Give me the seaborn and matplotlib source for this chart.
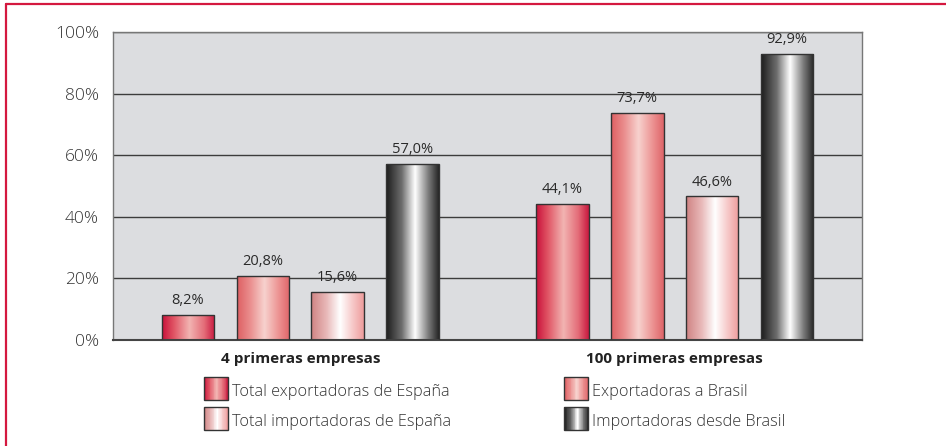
import numpy as np
import pandas as pd
import seaborn as sns
import matplotlib
matplotlib.use("Agg")
import matplotlib.pyplot as plt
from matplotlib.colors import LinearSegmentedColormap
from matplotlib.patches import Rectangle
from matplotlib.lines import Line2D
from matplotlib.legend_handler import HandlerBase

# ---------------- data ----------------
categories = ["4 primeras empresas", "100 primeras empresas"]
series = ["Total exportadoras de España", "Exportadoras a Brasil",
          "Total importadoras de España", "Importadoras desde Brasil"]
total_exportadoras = [8.2, 44.1]
exportadoras_brasil = [20.8, 73.7]
total_importadoras = [15.6, 46.6]
importadoras_brasil = [57.0, 92.9]
yticks = [0, 20, 40, 60, 80, 100]
ytick_labels = ["0%", "20%", "40%", "60%", "80%", "100%"]

values = [total_exportadoras, exportadoras_brasil, total_importadoras, importadoras_brasil]
rows = []
for s, vals in zip(series, values):
    for c, v in zip(categories, vals):
        rows.append({"categoria": c, "serie": s, "valor": v})
df = pd.DataFrame(rows)

# ---------------- style ----------------
sns.set_theme(style="white")
plt.rcParams["font.family"] = ["Open Sans", "DejaVu Sans"]

gradients = [
    LinearSegmentedColormap.from_list("g1", [(0, "#c8103a"), (0.22, "#e05464"), (0.52, "#f2b4b2"), (0.8, "#e46c78"), (1, "#c8183f")]),
    LinearSegmentedColormap.from_list("g2", [(0, "#de5f62"), (0.25, "#ea8e8e"), (0.52, "#f7d2ce"), (0.8, "#ec9090"), (1, "#de6468")]),
    LinearSegmentedColormap.from_list("g3", [(0, "#cf8282"), (0.3, "#e9baba"), (0.55, "#ffffff"), (0.8, "#f6c6c6"), (1, "#ee9c9c")]),
    LinearSegmentedColormap.from_list("g4", [(0, "#1c1c1c"), (0.3, "#6e6e6e"), (0.55, "#ffffff"), (0.8, "#7c7c7c"), (1, "#262626")]),
]
mid_colors = [g(0.5) for g in gradients]

fig = plt.figure(figsize=(9.46, 4.46), dpi=100)
ax = fig.add_axes([113 / 946, 1 - 340 / 446, (862 - 113) / 946, (340 - 32) / 446])
ax.set_facecolor("#dcdde0")

sns.barplot(data=df, x="categoria", y="valor", hue="serie", order=categories,
            hue_order=series, palette=mid_colors, saturation=1, width=0.8, gap=0.3,
            edgecolor="#333333", linewidth=1.0, legend=False, ax=ax, errorbar=None)

grad = np.linspace(0, 1, 256).reshape(1, -1)
for i, cont in enumerate(ax.containers):
    for bar in cont:
        x, w, h = bar.get_x(), bar.get_width(), bar.get_height()
        bar.set_facecolor("none")
        bar.set_zorder(3)
        im = ax.imshow(grad, cmap=gradients[i], extent=[x, x + w, 0, h],
                       aspect="auto", zorder=2.5, interpolation="bilinear")
        im.set_clip_path(bar)
    labels = [f"{v:.1f}%".replace(".", ",") for v in values[i]]
    ax.bar_label(cont, labels=labels, padding=5, fontsize=10.5, color="#2a2a2a")

ax.set_xlim(-0.5, 1.5)
ax.set_ylim(0, 100)
ax.set_yticks(yticks)
ax.set_yticklabels(ytick_labels, fontsize=12.5, color="#333333", fontweight="light")
ax.tick_params(axis="y", length=0, pad=10)
ax.yaxis.grid(True, color="#3c3c3c", linewidth=1.0, zorder=0.5)
ax.set_axisbelow(True)

ax.set_xticks([0, 1])
ax.set_xticklabels(categories, fontsize=11, fontweight="bold", color="#222222")
ax.set_xticks([-0.5, 0.5, 1.5], minor=True)
ax.tick_params(axis="x", which="major", length=0, pad=9)
ax.tick_params(axis="x", which="minor", length=8, width=1.2, color="#777777", direction="out")
ax.set_xlabel("")
ax.set_ylabel("")
for side in ["left", "right", "top"]:
    ax.spines[side].set_color("#777777")
    ax.spines[side].set_linewidth(1.0)
ax.spines["bottom"].set_color("#444444")
ax.spines["bottom"].set_linewidth(1.5)


class GradHandler(HandlerBase):
    def __init__(self, cmap):
        super().__init__()
        self.cmap = cmap

    def create_artists(self, legend, orig_handle, xdescent, ydescent, width, height, fontsize, trans):
        n = 30
        full_h = height + ydescent
        arts = []
        for k in range(n):
            arts.append(Rectangle((-xdescent + k * width / n, -ydescent), width / n * 1.1, full_h,
                                  facecolor=self.cmap((k + 0.5) / n), edgecolor="none", transform=trans))
        arts.append(Rectangle((-xdescent, -ydescent), width, full_h, facecolor="none",
                              edgecolor="#333333", linewidth=1.0, transform=trans))
        return arts


proxies = [Rectangle((0, 0), 1, 1) for _ in series]
order = [0, 2, 1, 3]
handler_map = {proxies[i]: GradHandler(gradients[i]) for i in range(4)}
fs_leg = 11.7
px = fs_leg * 100 / 72
fig.legend([proxies[i] for i in order], [series[i] for i in order], handler_map=handler_map,
           ncol=2, loc="upper left", bbox_to_anchor=(204 / 946, 1 - 381 / 446),
           frameon=False, borderpad=0, borderaxespad=0, handlelength=24 / px,
           handleheight=23 / px, handletextpad=4 / px, columnspacing=113 / px,
           labelspacing=11 / px, prop={"size": fs_leg, "weight": "light"}, labelcolor="#333333")

# red frame lines (left and top)
fig.add_artist(Line2D([5.5 / 946, 5.5 / 946], [0, 1 - 4 / 446], transform=fig.transFigure,
                      color="#d4183f", linewidth=1.6))
fig.add_artist(Line2D([5.5 / 946, 1], [1 - 4 / 446, 1 - 4 / 446], transform=fig.transFigure,
                      color="#d4183f", linewidth=1.6))

fig.savefig("out.png", dpi=100, facecolor="white")
